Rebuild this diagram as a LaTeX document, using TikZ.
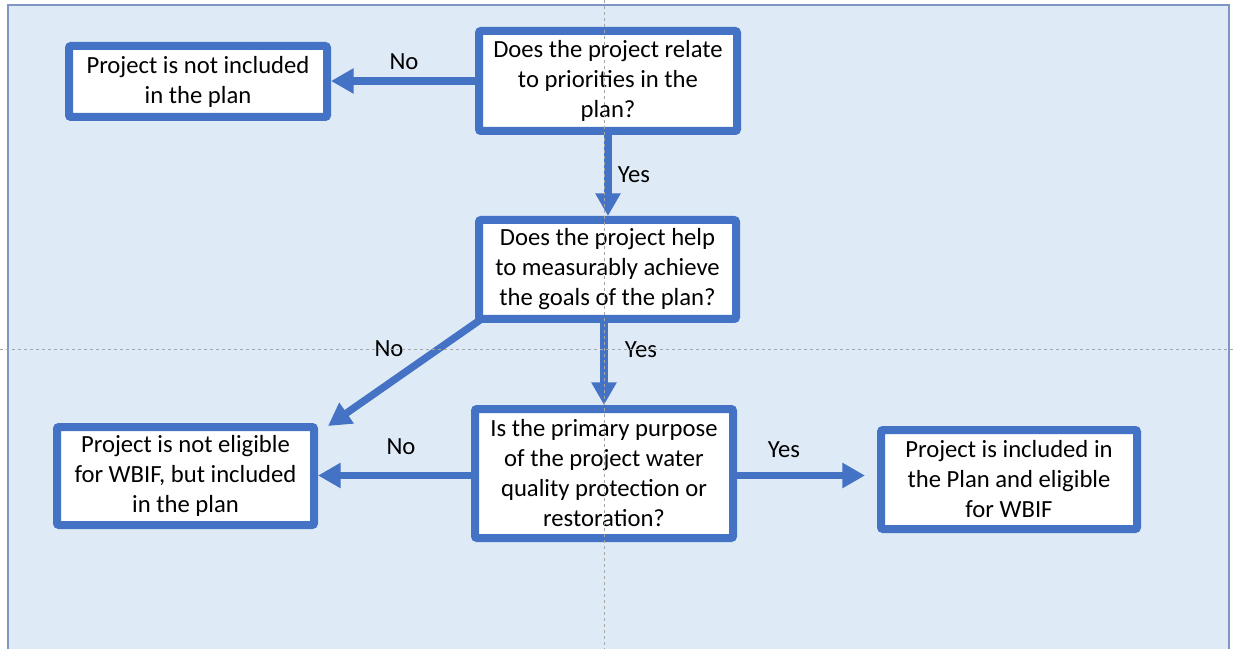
\documentclass[tikz,border=0pt]{standalone}
\usepackage{fontspec}
\setmainfont{Carlito}
\usetikzlibrary{arrows.meta,calc}
\definecolor{boxblue}{HTML}{4472C4}
\definecolor{bgblue}{HTML}{DEEAF6}
\definecolor{bgedge}{HTML}{7F96C4}
\definecolor{guide}{HTML}{A6A6A6}
\begin{document}
\begin{tikzpicture}[x=0.75pt,y=-0.75pt,
  flowbox/.style={draw=boxblue, line width=6pt, fill=white, rounded corners=1.5pt,
    align=center, inner sep=0pt, font=\fontsize{18.5}{22.5}\selectfont},
  lbl/.style={font=\fontsize{18.5}{22.5}\selectfont, inner sep=0pt},
  flowarrow/.style={draw=boxblue, line width=5.5pt,
    -{Triangle[length=17pt,width=18pt]}},
  guideline/.style={draw=guide, line width=0.6pt, dash pattern=on 2.5pt off 2pt}]
\useasboundingbox (0,0) rectangle (1233,649);
\fill[white] (0,0) rectangle (1233,649);
\draw[fill=bgblue, draw=bgedge, line width=1.2pt] (8,660) -- (8,5) -- (1229,5) -- (1229,660);

\node[flowbox, minimum width=258*0.75pt, minimum height=71*0.75pt] (b1) at (198,81.5)
  {Project is not included\\in the plan};
\node[flowbox, minimum width=258*0.75pt, minimum height=100*0.75pt] (b2) at (608,81)
  {Does the project relate\\to priorities in the\\plan?};
\node[flowbox, minimum width=257*0.75pt, minimum height=99*0.75pt] (b3) at (607.5,269.5)
  {Does the project help\\to measurably achieve\\the goals of the plan?};
\node[flowbox, minimum width=257*0.75pt, minimum height=98*0.75pt] (b4) at (185.5,476)
  {Project is not eligible\\for WBIF, but included\\in the plan};
\node[flowbox, minimum width=258*0.75pt, minimum height=129*0.75pt] (b5) at (604,473.5)
  {Is the primary purpose\\of the project water\\quality protection or\\restoration?};
\node[flowbox, minimum width=256*0.75pt, minimum height=99*0.75pt] (b6) at (1009,479.5)
  {Project is included in\\the Plan and eligible\\for WBIF};

\coordinate (dstart) at ([shift={(5,-3)}]b3.south west);
\coordinate (dtip) at ([shift={(10,3)}]b4.north east);

\draw[flowarrow] (b2.west) -- (b2.west -| b1.east);
\draw[flowarrow] (b2.south) -- (b2.south |- b3.north);
\draw[flowarrow] (dstart) -- (dtip);
\draw[flowarrow] (b3.south -| b5.north) -- (b5.north);
\draw[flowarrow] ([yshift=-1.5]b5.west) -- ([yshift=-1.5]b5.west -| b4.east);
\draw[flowarrow, shorten >=9pt] ([yshift=-1.5]b5.east) -- ([yshift=-1.5]b5.east -| b6.west);

\node[lbl] (l1) at (404,62) {No};
\node[lbl] (l2) at (634,175) {Yes};
\node[lbl] (l3) at (389,349) {No};
\node[lbl] (l4) at (641,350) {Yes};
\node[lbl] (l5) at (401,447) {No};
\node[lbl] (l6) at (784,450) {Yes};

\draw[guideline] (604,0) -- (604,649);
\draw[guideline] (0,349) -- (1233,349);
\end{tikzpicture}
\end{document}
